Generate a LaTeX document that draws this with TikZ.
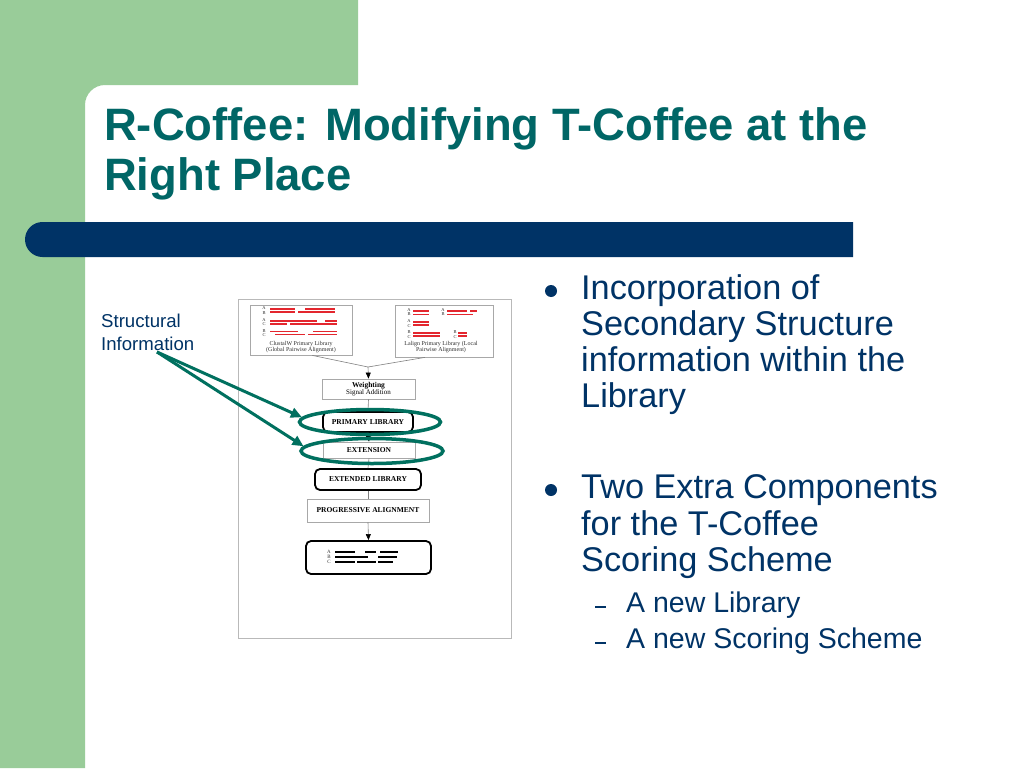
\documentclass[tikz,border=0pt]{standalone}
\usepackage{fontspec}
\setmainfont{Liberation Sans}
\newfontfamily\figserif{Liberation Serif}
\usetikzlibrary{arrows.meta,shapes.geometric}
\definecolor{bggreen}{HTML}{99CC99}
\definecolor{navy}{HTML}{003366}
\definecolor{titleteal}{HTML}{006666}
\definecolor{markteal}{HTML}{00705F}
\definecolor{seqred}{HTML}{E3262E}
\definecolor{boxgray}{HTML}{A8A8A8}
\definecolor{capgray}{HTML}{303030}
\tikzset{
  titletext/.style={anchor=base west, inner sep=0, text=titleteal, font=\fontsize{45.4}{50}\selectfont\bfseries},
  bullettext/.style={anchor=base west, inner sep=0, text=navy, font=\fontsize{34.3}{36}\selectfont},
  subtext/.style={anchor=base west, inner sep=0, text=navy, font=\fontsize{28.5}{32}\selectfont},
  notetext/.style={anchor=base west, inner sep=0, text=navy, font=\fontsize{18.6}{22}\selectfont},
  plainbox/.style={draw=boxgray, line width=0.8, fill=white, inner sep=0, text=black, font=\figserif\fontsize{7.5}{8.5}\selectfont\bfseries},
  roundbox/.style={draw=black, line width=1.8, rounded corners=5, fill=white, inner sep=0, text=black, font=\figserif\fontsize{7.5}{8.5}\selectfont\bfseries},
  seqbox/.style={draw=boxgray, line width=0.8, fill=white, inner sep=0},
  caption/.style={inner sep=0, align=center, text=capgray, font=\figserif\fontsize{6}{6.5}\selectfont},
  seqlab/.style={inner sep=0, align=center, text=capgray, font=\figserif\fontsize{4.5}{4.2}\selectfont},
  redseq/.style={draw=seqred, line width=1.8},
  blackseq/.style={draw=black, line width=1.6},
  conn/.style={draw=gray, line width=0.6},
  flowarrow/.style={conn, -{Triangle[length=6pt,width=5pt,color=black]}},
  markring/.style={ellipse, draw=markteal, line width=3.5, inner sep=0},
  markarrow/.style={draw=markteal, line width=3, -{Triangle[length=11pt,width=10pt]}},
  dot/.style={circle, fill=navy, inner sep=0, minimum size=12}
}
\begin{document}
\begin{tikzpicture}[x=1pt,y=-1pt]
\useasboundingbox (0,0) rectangle (1024,768);
\begin{scope}
\clip (0,0) rectangle (1024,768);
\fill[white] (0,0) rectangle (1024,768);
% green frame with rounded inner corner
\fill[bggreen] (0,0) -- (358,0) -- (358,85) -- (105,85)
  arc[start angle=-90, end angle=-180, radius=20] -- (85,768) -- (0,768) -- cycle;
% blue bar
\fill[navy] (853,222) -- (42.5,222) arc[start angle=-90, end angle=-270, radius=17.5] -- (853,257) -- cycle;
\end{scope}

% title
\node[titletext] (title1) at (104,140) {R-Coffee: Modifying T-Coffee at the};
\node[titletext] (title2) at (104,190) {Right Place};

% bullets
\node[dot] (b1) at (551,291) {};
\node[bullettext] (l1) at (581,299) {Incorporation of};
\node[bullettext] (l2) at (581,335) {Secondary Structure};
\node[bullettext] (l3) at (581,371) {information within the};
\node[bullettext] (l4) at (581,407) {Library};
\node[dot] (b2) at (551,490) {};
\node[bullettext] (m1) at (581,498) {Two Extra Components};
\node[bullettext] (m2) at (581,535) {for the T-Coffee};
\node[bullettext] (m3) at (581,571) {Scoring Scheme};
\node[subtext] (s1) at (626,612) {A new Library};
\node[subtext] (s2) at (626,648) {A new Scoring Scheme};
\draw[navy, line width=1.1] (595,607) -- (606,607);
\draw[navy, line width=1.1] (595,643) -- (606,643);

% note
\node[notetext] (n1) at (101,327) {Structural};
\node[notetext] (n2) at (101,350) {Information};
\coordinate (src) at (157,352);

% figure frame
\draw[boxgray!80, line width=1] (238,299) rectangle (511,638);

% flow connectors (under the boxes)
\node[seqbox, minimum width=102, minimum height=50] (lbox) at (301,330) {};
\node[seqbox, minimum width=98, minimum height=52] (rbox) at (444,331) {};
\coordinate (merge) at (368,367);
\draw[conn] (lbox.-66) -- (merge);
\draw[conn] (rbox.-126) -- (merge);

\node[plainbox, minimum width=93, minimum height=20, align=center] (weight) at (368.5,389)
  {Weighting\\[-1pt]{\mdseries\fontsize{7}{8}\selectfont Signal Addition}};
\node[roundbox, minimum width=90, minimum height=20] (primary) at (368,422) {PRIMARY LIBRARY};
\node[plainbox, minimum width=92, minimum height=16] (extension) at (369,450) {EXTENSION};
\node[roundbox, minimum width=106, minimum height=21] (extended) at (368,479.5) {EXTENDED LIBRARY};
\node[plainbox, minimum width=122, minimum height=23] (progressive) at (368,510.5) {PROGRESSIVE ALIGNMENT};
\node[roundbox, minimum width=125, minimum height=33] (final) at (368.5,557.5) {};

\draw[flowarrow] (merge) -- (weight.north);
\draw[conn] (weight.south) -- (primary.north);
\draw[flowarrow] (primary.south) -- (extension.north);
\draw[conn] (extension.south) -- (extended.north);
\draw[conn] (extended.south) -- (progressive.north);
\draw[flowarrow] (progressive.south) -- (final.north);

% left library box content
\node[seqlab] (la1) at (264,310.5) {A\\B};
\node[seqlab] (la2) at (264,322) {A\\C};
\node[seqlab] (la3) at (264,333) {B\\C};
\draw[redseq] (270,309) -- (295,309) (305,309) -- (335,309);
\draw[redseq] (270,312) -- (295,312) (298,312) -- (335,312);
\draw[redseq] (270,321) -- (317,321) (325,321) -- (337,321);
\draw[redseq] (270,324) -- (287,324) (290,324) -- (337,324);
\draw[redseq] (270,331.5) -- (298,331.5) (313,331.5) -- (337,331.5);
\draw[redseq] (275,334.5) -- (305,334.5) (308,334.5) -- (337,334.5);
\node[caption] (lcap) at (301,347) {ClustalW Primary Library\\(Global Pairwise Alignment)};

% right library box content
\node[seqlab] (ra1) at (409,312) {A\\B};
\node[seqlab] (ra2) at (443,312) {A\\B};
\node[seqlab] (ra3) at (409,323.5) {A\\C};
\node[seqlab] (ra4) at (409,334.5) {B\\C};
\node[seqlab] (ra5) at (455,334.5) {B\\C};
\draw[redseq] (413,311) -- (429,311) (413,314.5) -- (429,314.5);
\draw[redseq] (447,311) -- (467,311) (470,311) -- (477,311) (447,314.5) -- (473,314.5);
\draw[redseq] (413,322) -- (429,322) (413,325) -- (429,325);
\draw[redseq] (413,333) -- (440,333) (413,336) -- (440,336);
\draw[redseq] (458,333) -- (467,333) (458,336) -- (467,336);
\node[caption] (rcap) at (441,347) {Lalign Primary Library (Local\\Pairwise Alignment)};

% final alignment content
\node[seqlab, font=\figserif\fontsize{5}{4.8}\selectfont] (fa) at (329,557) {A\\B\\C};
\draw[blackseq] (335,552) -- (355,552) (365,552) -- (376,552) (380,552) -- (398,552);
\draw[blackseq] (335,557) -- (368,557) (378,557) -- (397,557);
\draw[blackseq] (335,562) -- (355,562) (357,562) -- (376,562) (378,562) -- (393,562);

% highlight rings and arrows
\node[markring, minimum width=141, minimum height=25] (e1) at (370,422) {};
\node[markring, minimum width=142, minimum height=25] (e2) at (372,451) {};
\draw[markarrow] (src) -- (e1.176);
\draw[markarrow] (src) -- (e2.176);
\end{tikzpicture}
\end{document}
